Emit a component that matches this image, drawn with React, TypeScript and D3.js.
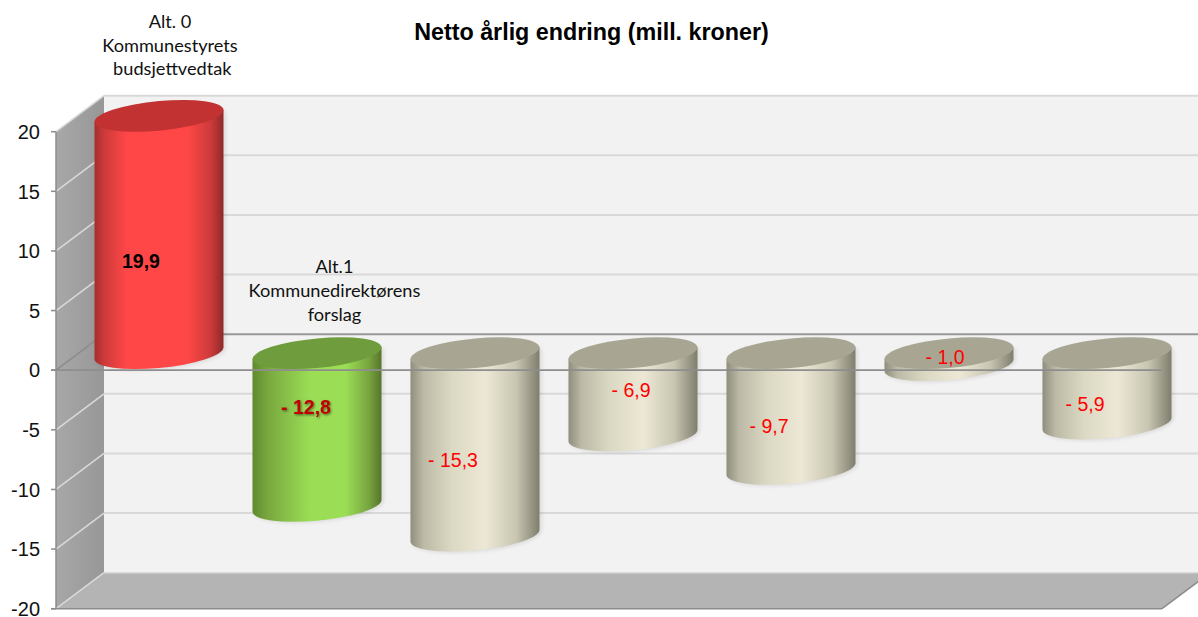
import React from "react";
import * as d3 from "d3";

const categories = ["A", "B", "C", "D", "E", "F", "G"];
const values = [19.9, -12.8, -15.3, -6.9, -9.7, -1.0, -5.9];
const valueLabels = ["19,9", "- 12,8", "- 15,3", "- 6,9", "- 9,7", "- 1,0", "- 5,9"];
const kinds = ["red", "green", "beige", "beige", "beige", "beige", "beige"];
const yTicks = [20, 15, 10, 5, 0, -5, -10, -15, -20];
const title = "Netto årlig endring (mill. kroner)";
const noteAlt0 = ["Alt. 0", "Kommunestyrets", " budsjettvedtak"];
const noteAlt1 = ["Alt.1", "Kommunedirektørens", "forslag"];

// layout
const W = 1198, H = 617;
const depthX = 48, depthY = -36;
const labelAnchors: [number, number][] = [
  [141, 268], [306, 414], [453, 467], [631, 397], [769, 433], [945, 364], [1085, 411],
];

const y = d3.scaleLinear().domain([-20, 20]).range([608.7, 131.7]);
const x = d3.scaleBand<string>().domain(categories).range([56, 1162]).padding(0);

const palettes: Record<string, { stops: [number, string][]; top: string }> = {
  red: {
    stops: [[0, "#a52e2e"], [0.08, "#cf3a3a"], [0.25, "#ff4747"], [0.72, "#ff4747"], [0.9, "#cc3a3a"], [1, "#8f2a2a"]],
    top: "#c23232",
  },
  green: {
    stops: [[0, "#5f8a2e"], [0.12, "#79a83e"], [0.45, "#9bde56"], [0.72, "#9bde56"], [0.9, "#79a53f"], [1, "#56752b"]],
    top: "#6f9c3d",
  },
  beige: {
    stops: [[0, "#8f8e7c"], [0.1, "#bcbaa6"], [0.32, "#dbd8c3"], [0.58, "#ece8d5"], [0.82, "#c8c5b1"], [1, "#7f7e6d"]],
    top: "#a8a693",
  },
};

const RX = 64.5, RY = 14.8, SHEAR = -5.85 / 64.5;

function Cylinder({ i }: { i: number }) {
  const v = values[i];
  const cx = x(categories[i])! + x.bandwidth() / 2 + 24;
  const zeroY = y(0) - 17;
  const valY = y(v) - 17;
  const topY = Math.min(zeroY, valY);
  const h = Math.abs(valY - zeroY);
  const kind = kinds[i];
  const side = `M${-RX},0 L${-RX},${h} A${RX},${RY} 0 0 0 ${RX},${h} L${RX},0 Z`;
  return (
    <g>
      <path
        d={side}
        transform={`translate(${cx + 2},${topY + 1}) matrix(1,${SHEAR},0,1,0,0)`}
        fill="#000"
        opacity={0.1}
        filter="url(#soft)"
      />
      <g transform={`translate(${cx},${topY}) matrix(1,${SHEAR},0,1,0,0)`}>
        <path d={side} fill={`url(#grad-${kind})`} />
        <ellipse cx={0} cy={0} rx={RX} ry={RY} fill={palettes[kind].top} />
      </g>
    </g>
  );
}

export default function App() {
  const left = x.range()[0];
  const right = x.range()[1];
  const backY = (v: number) => y(v) + depthY;
  return (
    <svg
      width={W}
      height={H}
      viewBox={`0 0 ${W} ${H}`}
      style={{ position: "absolute", left: 0, top: 0, display: "block", background: "#fff" }}
    >
      <defs>
        {Object.entries(palettes).map(([k, p]) => (
          <linearGradient key={k} id={`grad-${k}`} x1="0" x2="1" y1="0" y2="0">
            {p.stops.map(([o, c]) => (
              <stop key={o} offset={o} stopColor={c} />
            ))}
          </linearGradient>
        ))}
        <linearGradient id="wall" x1="0" x2="1" y1="0" y2="0">
          <stop offset={0} stopColor="#a8a8a8" />
          <stop offset={1} stopColor="#979797" />
        </linearGradient>
        <filter id="soft" x="-10%" y="-10%" width="120%" height="120%">
          <feGaussianBlur stdDeviation={2} />
        </filter>
        <filter id="textShadow" x="-10%" y="-20%" width="130%" height="150%">
          <feDropShadow dx={1} dy={1.2} stdDeviation={0.8} floodColor="#000" floodOpacity={0.5} />
        </filter>
      </defs>

      {/* back wall */}
      <rect x={left + depthX} y={backY(20)} width={W - left - depthX} height={y(-20) - y(20)} fill="#f2f2f2" />
      <line x1={left + depthX} x2={W} y1={backY(20)} y2={backY(20)} stroke="#d9d9d9" strokeWidth={2} />

      {/* side wall */}
      <polygon
        points={`${left},${y(20)} ${left + depthX},${backY(20)} ${left + depthX},${backY(-20)} ${left},${y(-20)}`}
        fill="url(#wall)"
      />

      {/* floor */}
      <polygon
        points={`${left},${y(-20)} ${left + depthX},${backY(-20)} ${W + 12},${backY(-20)} ${right},${y(-20)}`}
        fill="#b4b4b4"
      />
      <line x1={left} x2={left + depthX} y1={y(-20)} y2={backY(-20)} stroke="#d9d9d9" strokeWidth={1.5} />
      <line x1={left + depthX} x2={W} y1={backY(-20)} y2={backY(-20)} stroke="#d9d9d9" strokeWidth={1.5} />
      <line x1={right} x2={W + 12} y1={y(-20)} y2={backY(-20)} stroke="#8c8c8c" strokeWidth={1.5} />

      {/* grid lines */}
      {yTicks.filter((t) => t !== -20 && t !== 20).map((t) => (
        <g key={t}>
          <line
            x1={left}
            x2={left + depthX}
            y1={y(t)}
            y2={backY(t)}
            stroke={t === 0 ? "#8c8c8c" : "#d9d9d9"}
            strokeWidth={1.5}
          />
          <line
            x1={left + depthX}
            x2={W}
            y1={backY(t)}
            y2={backY(t)}
            stroke={t === 0 ? "#989898" : "#d9d9d9"}
            strokeWidth={2}
          />
        </g>
      ))}
      <line x1={left} x2={left + depthX} y1={y(20)} y2={backY(20)} stroke="#d9d9d9" strokeWidth={1.5} />

      {/* bars */}
      {categories.map((_, i) => (
        <Cylinder key={i} i={i} />
      ))}

      {/* value axis and zero line */}
      <line x1={left} x2={left} y1={y(20)} y2={y(-20)} stroke="#8c8c8c" strokeWidth={1.5} />
      <line x1={left - 5} x2={right} y1={y(-20)} y2={y(-20)} stroke="#8c8c8c" strokeWidth={1.5} />
      <line x1={left - 5} x2={right} y1={y(0)} y2={y(0)} stroke="#8e8e8e" strokeWidth={1.8} />
      {yTicks.map((t) => (
        <g key={t}>
          <line x1={left - 5} x2={left} y1={y(t)} y2={y(t)} stroke="#8c8c8c" strokeWidth={1.5} />
          <text
            x={40}
            y={y(t)}
            dy="0.36em"
            textAnchor="end"
            fontFamily="'Liberation Sans', Arial, sans-serif"
            fontSize={20}
            fill="#111"
          >
            {t}
          </text>
        </g>
      ))}

      {/* value labels */}
      {valueLabels.map((l, i) => {
        const [lx, ly] = labelAnchors[i];
        const bold = i < 2;
        return (
          <text
            key={i}
            x={lx}
            y={ly}
            textAnchor="middle"
            fontFamily="'Liberation Sans', Arial, sans-serif"
            fontSize={19.5}
            fontWeight={bold ? 700 : 400}
            fill={i === 0 ? "#000" : i === 1 ? "#c00000" : "#ff0000"}
            filter={i === 1 ? "url(#textShadow)" : undefined}
          >
            {l}
          </text>
        );
      })}

      {/* title */}
      <text
        x={591.5}
        y={40}
        textAnchor="middle"
        fontFamily="'Liberation Sans', Arial, sans-serif"
        fontSize={23.3}
        fontWeight={700}
        fill="#000"
      >
        {title}
      </text>

      {/* notes */}
      {noteAlt0.map((t, i) => (
        <text key={t} x={170} y={28 + i * 23.5} textAnchor="middle" fontFamily="Lato, sans-serif" fontSize={18.2} fill="#111" xmlSpace="preserve">
          {t}
        </text>
      ))}
      {noteAlt1.map((t, i) => (
        <text key={t} x={334.5} y={273 + i * 24} textAnchor="middle" fontFamily="Lato, sans-serif" fontSize={18.2} fill="#111">
          {t}
        </text>
      ))}
    </svg>
  );
}
